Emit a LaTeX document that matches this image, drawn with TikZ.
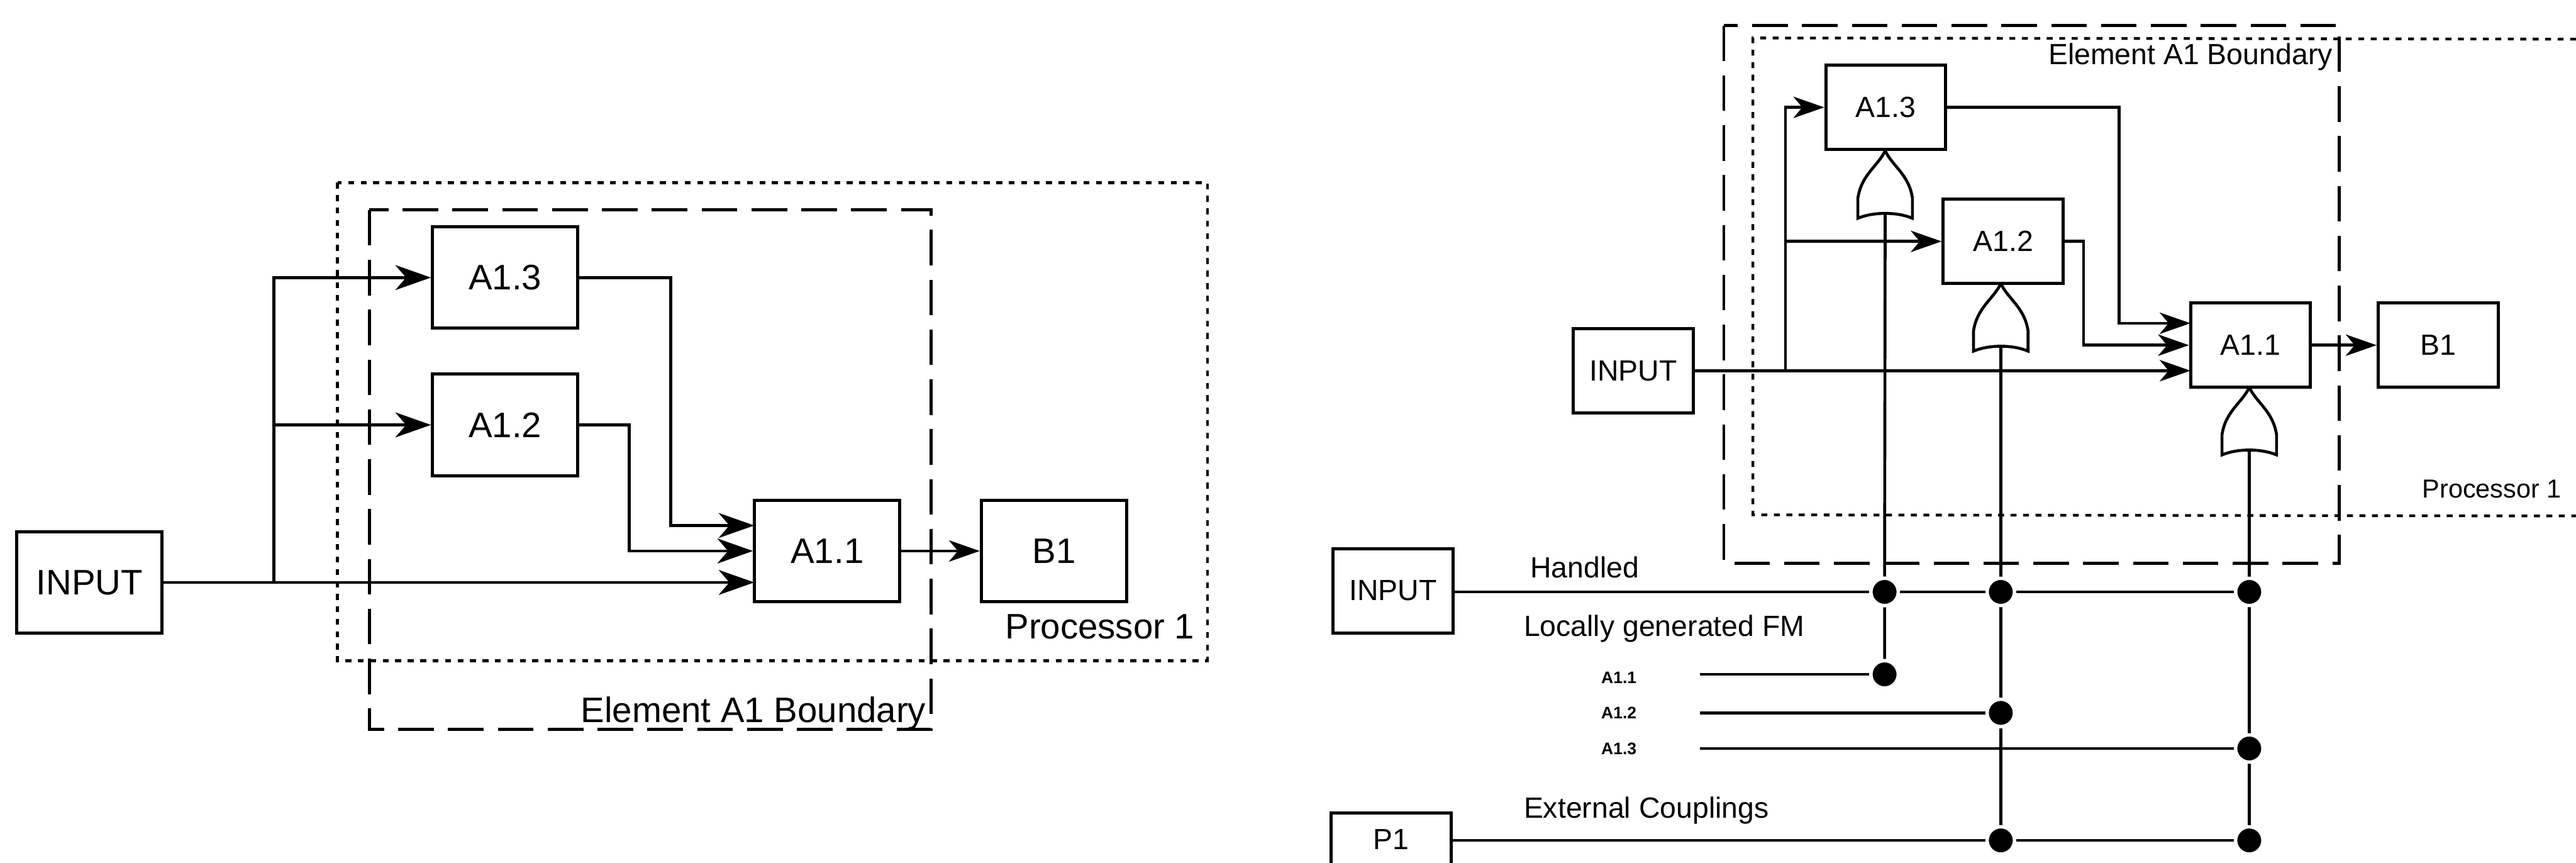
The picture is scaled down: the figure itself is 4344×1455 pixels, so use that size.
\documentclass[tikz,border=0pt]{standalone}
\usepackage{fontspec}
\setmainfont{Liberation Sans}
\usetikzlibrary{positioning,arrows.meta,backgrounds}

\begin{document}
\begin{tikzpicture}[
  x=0.01cm, y=-0.01cm,
  wire/.style={line width=1.4pt},
  arr/.style={wire, -{Stealth[length=6mm,width=4.2mm,inset=1.8mm]}},
  arrs/.style={wire, -{Stealth[length=5.2mm,width=3.6mm,inset=1.5mm]}},
  box/.style={draw, line width=1.5pt, inner sep=0pt, minimum width=24.5mm, minimum height=17.1mm, font=\fontsize{17}{20}\selectfont},
  sbox/.style={draw, line width=1.5pt, inner sep=0pt, minimum width=20.2mm, minimum height=14.2mm, font=\fontsize{14}{17}\selectfont},
  dashbound/.style={line width=1.4pt, dash pattern=on 6mm off 2.4mm},
  dotbound/.style={line width=1.3pt, dash pattern=on 1mm off 1.1mm},
  lbl/.style={inner sep=0pt, font=\fontsize{14}{17}\selectfont},
  tiny/.style={inner sep=0pt, font=\bfseries\fontsize{8}{10}\selectfont},
  dot/.style={circle, fill=black, draw=white, line width=1.6pt, minimum size=4.6mm, inner sep=0pt}
]
\useasboundingbox (0,0) rectangle (4344,1455);

\node[box] (linput) at (151,982) {INPUT};
\node[box] (la13) at (852,468) {A1.3};
\node[box, below=7.2mm of la13] (la12) {A1.2};
\node[box] (la11) at (1395,929) {A1.1};
\node[box, right=13.2mm of la11] (lb1) {B1};

\coordinate (lin1) at (1272,886);
\coordinate (lin3) at (1272,982);
\coordinate (lbranch) at (462,982);

\draw[dotbound] (569,308) rectangle (2036,1114);
\draw[dashbound] (623,354) rectangle (1570,1230);
\node[inner sep=0pt, anchor=east, font=\fontsize{17}{20}\selectfont] (lproc) at (2015,1057) {Processor 1};
\node[inner sep=0pt, anchor=east, font=\fontsize{17}{20}\selectfont] (lelem) at (1562,1203) {Element A1 Boundary};

\draw[arr] (linput) -- (lin3);
\draw[arr] (lbranch) |- (la13.west);
\draw[arr] (lbranch |- la12) -- (la12);
\draw[arr] (la13.east) -- ++(154,0) |- (lin1);
\draw[arr] (la12.east) -- ++(84,0) |- (la11.west);
\draw[arrs] (la11) -- (lb1);

\node[sbox] (rinput) at (2754,625) {INPUT};
\node[sbox] (ra13) at (3180,181) {A1.3};
\node[sbox] (ra12) at (3378,407) {A1.2};
\node[sbox] (ra11) at (3795,582) {A1.1};
\node[sbox, right=10.9mm of ra11] (rb1) {B1};

\coordinate (rin1) at (3694,545);
\coordinate (rin3) at (3694,625);
\coordinate (rbranch) at (3011,625);
\coordinate (rprocne) at (4344,66);
\coordinate (rprocse) at (4344,870);

\draw[dotbound] (rprocne) -- (2956,64) -- (2956,868) -- (rprocse);
\draw[dashbound] (2907,43) rectangle (3945,950);
\node[lbl, anchor=east] (relem) at (3934,96) {Element A1 Boundary};
\node[inner sep=0pt, anchor=east, font=\fontsize{12.5}{15}\selectfont] (rproc) at (4320,825) {Processor 1};

\draw[arrs] (rinput) -- (rin3);
\draw[arrs] (rbranch) |- (ra13.west);
\draw[arrs] (rbranch |- ra12) -- (ra12);
\draw[arrs] (ra13.east) -- ++(290,0) |- (rin1);
\draw[arrs] (ra12.east) -- ++(32,0) |- (ra11.west);
\draw[arrs] (ra11) -- (rb1);

\foreach \gname/\cx/\cy in {g3/3179/254, g2/3374/478, g1/3793/653} {
  \draw[wire] (\cx,\cy) .. controls (\cx-12,\cy+26) and (\cx-40,\cy+40) .. (\cx-46,\cy+80) -- (\cx-46,\cy+114)
    .. controls (\cx-20,\cy+103) and (\cx+20,\cy+103) .. (\cx+46,\cy+114) -- (\cx+46,\cy+80)
    .. controls (\cx+40,\cy+40) and (\cx+12,\cy+26) .. (\cx,\cy);
  \coordinate (\gname) at (\cx,\cy+106);
}

\node[sbox] (finput) at (2349,996) {INPUT};
\node[sbox, minimum height=8.8mm] (p1) at (2346,1415) {P1};
\node[lbl, anchor=west] (handled) at (2580,956) {Handled};
\node[lbl, anchor=west] (locally) at (2569,1060) {Locally generated FM};
\node[lbl, anchor=west] (extern) at (2569,1367) {External Couplings};
\node[tiny] (t1) at (2730,1143) {A1.1};
\node[tiny] (t2) at (2730,1202) {A1.2};
\node[tiny] (t3) at (2730,1262) {A1.3};

\node[dot] (d1) at (3178,998) {};
\node[dot] (d2) at (3374,998) {};
\node[dot] (d3) at (3793,998) {};
\node[dot] (d4) at (3178,1137) {};
\node[dot] (d5) at (3374,1202) {};
\node[dot] (d6) at (3793,1262) {};
\node[dot] (d7) at (3374,1417) {};
\node[dot] (d8) at (3793,1417) {};

\coordinate (s1) at (2867,1137);
\coordinate (s2) at (2867,1202);
\coordinate (s3) at (2867,1262);

\begin{scope}[on background layer]
\draw[wire] (g3) -- (d1) -- (d4);
\draw[wire] (g2) -- (d2) -- (d5) -- (d7);
\draw[wire] (g1) -- (d3) -- (d6) -- (d8);
\draw[wire] (finput.east |- d1) -- (d1) -- (d2) -- (d3);
\draw[wire] (s1) -- (d4);
\draw[wire] (s2) -- (d5);
\draw[wire] (s3) -- (d6);
\draw[wire] (p1.east |- d7) -- (d7) -- (d8);
\end{scope}
\end{tikzpicture}
\end{document}
